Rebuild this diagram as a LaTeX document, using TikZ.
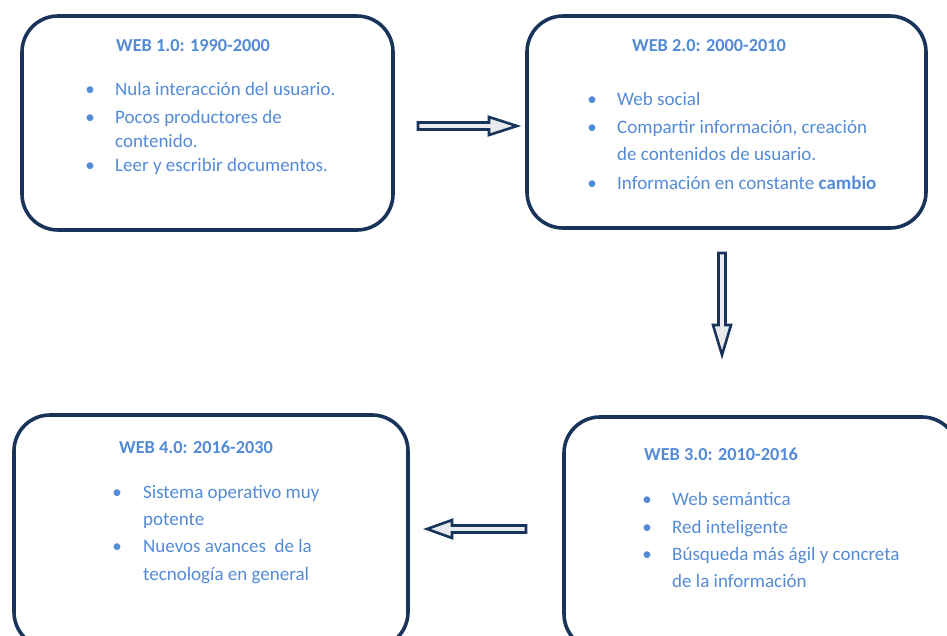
\documentclass[tikz,border=0pt]{standalone}
\usepackage{fontspec}
\setmainfont{Carlito}
\definecolor{navy}{RGB}{24,52,90}
\definecolor{txt}{RGB}{84,139,214}
\definecolor{afill}{RGB}{232,234,238}
\begin{document}
\begin{tikzpicture}[x=1pt,y=-1pt,
  box/.style={draw=navy, line width=3.6pt, rounded corners=36pt, fill=white},
  ttl/.style={anchor=base west, inner sep=0pt, text=txt, font=\fontsize{18.3}{21}\selectfont\bfseries},
  itm/.style={anchor=base west, inner sep=0pt, text=txt, font=\fontsize{19}{22}\selectfont},
  blt/.style={anchor=base, inner sep=0pt, text=txt, font=\fontsize{19}{22}\selectfont},
  barrow/.style={draw=navy, line width=2.6pt, fill=afill, line join=miter}]
\useasboundingbox (0,0) rectangle (947,635);
\clip (0,0) rectangle (947,635);
% boxes
\draw[box] (22,16) rectangle (393,230);
\draw[box] (527,16) rectangle (926,228);
\draw[box] (564,417) rectangle (958,650);
\draw[box] (14,415) rectangle (408,648);
% box 1
\node[ttl] (t1) at (116,51) {WEB 1.0: 1990-2000};
\node[blt] (b11) at (90,95) {•};
\node[itm] (l11) at (115,95) {Nula interacción del usuario.};
\node[blt] (b12) at (90,123) {•};
\node[itm] (l12) at (115,123) {Pocos productores de};
\node[itm] (l13) at (115,147) {contenido.};
\node[blt] (b13) at (90,171) {•};
\node[itm] (l14) at (115,171) {Leer y escribir documentos.};
% box 2
\node[ttl] (t2) at (632,51) {WEB 2.0: 2000-2010};
\node[blt] (b21) at (592,105) {•};
\node[itm] (l21) at (617,105) {Web social};
\node[blt] (b22) at (592,133) {•};
\node[itm] (l22) at (617,133) {Compartir información, creación};
\node[itm] (l23) at (617,160) {de contenidos de usuario.};
\node[blt] (b23) at (592,189) {•};
\node[itm] (l24) at (617,189) {Información en constante \textbf{cambio}};
% box 3
\node[ttl] (t3) at (644,460) {WEB 3.0: 2010-2016};
\node[blt] (b31) at (647,505) {•};
\node[itm] (l31) at (672,505) {Web semántica};
\node[blt] (b32) at (647,533) {•};
\node[itm] (l32) at (672,533) {Red inteligente};
\node[blt] (b33) at (647,560) {•};
\node[itm] (l33) at (672,560) {Búsqueda más ágil y concreta};
\node[itm] (l34) at (672,587) {de la información};
% box 4
\node[ttl] (t4) at (119,453) {WEB 4.0: 2016-2030};
\node[blt] (b41) at (117,498) {•};
\node[itm] (l41) at (143,498) {Sistema operativo muy};
\node[itm] (l42) at (143,525) {potente};
\node[blt] (b42) at (117,552) {•};
\node[itm] (l43) at (143,552) {Nuevos avances\ \ de la};
\node[itm] (l44) at (143,580) {tecnología en general};
% block arrows
\draw[barrow] (418,122.5) -- (489,122.5) -- (489,117) -- (517,126) -- (489,135) -- (489,129.5) -- (418,129.5) -- cycle;
\draw[barrow] (718.5,253) -- (725.5,253) -- (725.5,325) -- (731,325) -- (722,355) -- (713,325) -- (718.5,325) -- cycle;
\draw[barrow] (526,525.5) -- (452,525.5) -- (452,520) -- (427,529) -- (452,538) -- (452,532.5) -- (526,532.5) -- cycle;
\end{tikzpicture}
\end{document}
